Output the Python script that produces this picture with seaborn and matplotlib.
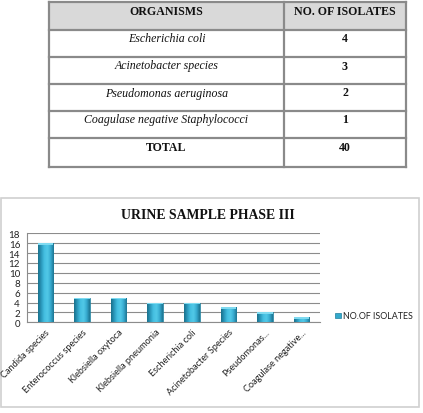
import matplotlib
matplotlib.use("Agg")
import matplotlib.pyplot as plt
import seaborn as sns
import numpy as np
import pandas as pd
from matplotlib.colors import LinearSegmentedColormap
from matplotlib.patches import Rectangle

# ---- data ----
table_header = ["ORGANISMS", "NO. OF ISOLATES"]
table_organisms = ["Escherichia coli", "Acinetobacter species",
                   "Pseudomonas aeruginosa", "Coagulase negative Staphylococci"]
table_counts = ["4", "3", "2", "1"]
table_total = ["TOTAL", "40"]

chart_title = "URINE SAMPLE PHASE III"
series_name = "NO.OF ISOLATES"
categories = ["Candida species", "Enterococcus species", "Klebsiella oxytoca",
              "Klebsiella pneumonia", "Escherichia coli", "Acinetobacter Species",
              "Pseudomonas...", "Coagulase negative..."]
values = [16, 5, 5, 4, 4, 3, 2, 1]
y_ticks = list(range(0, 19, 2))

sns.set_theme(style="white")
plt.rcParams['font.family'] = ['Lato', 'DejaVu Sans']

W, H = 423, 414
fig = plt.figure(figsize=(W / 100, H / 100), dpi=100)
fig.patch.set_facecolor("white")

# background overlay axes in pixel coords
bg = fig.add_axes([0, 0, 1, 1], zorder=0)
bg.set_xlim(0, W)
bg.set_ylim(H, 0)
bg.axis("off")

# ---- table ----
col_x = [49, 284, 406]
row_y = [3, 31, 58, 85, 112, 139, 168]
border = "#8a8a8a"
bg.add_patch(Rectangle((col_x[0], row_y[0]), col_x[2] - col_x[0], row_y[1] - row_y[0],
                       facecolor="#d9d9d9", edgecolor="none"))
for y in row_y:
    bg.plot([col_x[0], col_x[2]], [y, y], color=border, lw=1.6, solid_capstyle="projecting")
for x in col_x:
    bg.plot([x, x], [row_y[0], row_y[-1]], color=border, lw=1.6, solid_capstyle="projecting")

serif = ["Liberation Serif", "DejaVu Serif"]
fs_t = 8.6
c1 = (col_x[0] + col_x[1]) / 2
c2 = (col_x[1] + col_x[2]) / 2
bg.text(c1, row_y[0] + 9, table_header[0], ha="center", va="center",
        family=serif, fontweight="bold", fontsize=fs_t, color="#111111")
bg.text(c2, row_y[0] + 9, table_header[1], ha="center", va="center",
        family=serif, fontweight="bold", fontsize=fs_t, color="#111111")
for i, (org, cnt) in enumerate(zip(table_organisms, table_counts)):
    yy = row_y[i + 1] + 8.5
    bg.text(c1, yy, org, ha="center", va="center", family=serif,
            style="italic", fontsize=fs_t, color="#111111")
    bg.text(c2, yy, cnt, ha="center", va="center", family=serif,
            fontweight="bold", fontsize=fs_t, color="#111111")
bg.text(c1, row_y[5] + 9, table_total[0], ha="center", va="center",
        family=serif, fontweight="bold", fontsize=fs_t, color="#111111")
bg.text(c2, row_y[5] + 9, table_total[1], ha="center", va="center",
        family=serif, fontweight="bold", fontsize=fs_t, color="#111111")

# ---- chart frame ----
bg.add_patch(Rectangle((1, 199), 418, 209, facecolor="none", edgecolor="#d0d0d0", lw=1.2))
bg.text(208, 216, chart_title, ha="center", va="center", family=serif,
        fontweight="bold", fontsize=9.9, color="#111111")

# ---- bar chart ----
left, right = 27, 320
y0, y18 = 323.3, 234.3
ax = fig.add_axes([left / W, 1 - y0 / H, (right - left) / W, (y0 - y18) / H], zorder=1)
ax.patch.set_alpha(0)

df = pd.DataFrame({"organism": categories, "count": values})
sns.barplot(data=df, x="organism", y="count", color="#33a9cc", width=0.42,
            ax=ax, edgecolor="#1f7f9c", linewidth=0.5, zorder=3)

cmap = LinearSegmentedColormap.from_list(
    "cyl", ["#1a6f8a", "#2a98bb", "#45c0e2", "#52c9e8", "#37abd0", "#1c7490"])
grad = np.linspace(0, 1, 64).reshape(1, -1)
for p in ax.patches:
    x, yb = p.get_x(), p.get_y()
    w, h = p.get_width(), p.get_height()
    im = ax.imshow(grad, cmap=cmap, aspect="auto", extent=(x, x + w, yb, yb + h),
                   zorder=4, interpolation="bicubic")
    im.set_clip_path(p)
    # lighter top cap
    ax.add_patch(Rectangle((x, yb + h - 0.35), w, 0.35, facecolor="#7fdaf0",
                           edgecolor="none", zorder=5))

ax.set_xlim(-0.5, len(categories) - 0.5)
ax.set_ylim(0, 18)
ax.set_yticks(y_ticks)
ax.set_yticklabels([str(t) for t in y_ticks], fontsize=7, color="#222222")
ax.yaxis.grid(True, color="#8c8c8c", lw=0.8, zorder=0)
ax.set_axisbelow(True)
ax.set_xlabel("")
ax.set_ylabel("")
ax.set_xticks(range(len(categories)))
ax.set_xticklabels(categories, rotation=45, ha="right", rotation_mode="anchor",
                   fontsize=6.55, color="#222222")
ax.tick_params(axis="x", which="major", length=0, pad=3.5)
ax.set_xticks(np.arange(-0.5, len(categories), 1), minor=True)
ax.tick_params(axis="x", which="minor", length=3, color="#8c8c8c", width=0.8, direction="out")
ax.tick_params(axis="y", length=3, color="#8c8c8c", width=0.8, direction="out", pad=2)
for s in ["top", "right"]:
    ax.spines[s].set_visible(False)
for s in ["left", "bottom"]:
    ax.spines[s].set_color("#8c8c8c")
    ax.spines[s].set_linewidth(0.8)

# ---- legend ----
bg.add_patch(Rectangle((335, 314), 6, 5, facecolor="#33a9cc", edgecolor="#1f7f9c", lw=0.5))
bg.text(343, 317, series_name, ha="left", va="center", fontsize=6.4, color="#222222")

fig.savefig("out.png", dpi=100, facecolor="white")
